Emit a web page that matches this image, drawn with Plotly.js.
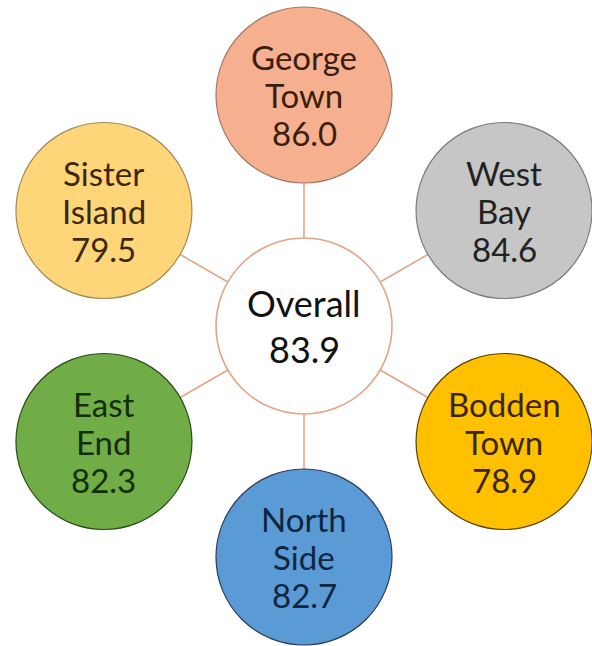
<!DOCTYPE html>
<html>
<head>
<meta charset="utf-8">
<script src="https://cdn.plot.ly/plotly-3.0.1.min.js"></script>
<style>html,body{margin:0;padding:0;background:#fff;}#chart{width:592px;height:646px;}</style>
</head>
<body>
<div id="chart"></div>
<script>
// Data
const centerName = ["Overall"];
const centerValue = [83.9];
const names = [["George", "Town"], ["West", "Bay"], ["Bodden", "Town"], ["North", "Side"], ["East", "End"], ["Sister", "Island"]];
const values = [86.0, 84.6, 78.9, 82.7, 82.3, 79.5];
const fillColors = ["#F6B08F", "#C6C6C6", "#FFC000", "#5B9BD5", "#70AD47", "#FFD57A"];
const textColors = ["#3A1E10", "#222222", "#3A2600", "#0F2540", "#132E08", "#3A2810"];
const borderColors = ["#A07A66", "#7A7A7A", "#5A4200", "#2A3E5A", "#2A4A1A", "#A08A5A"];

// Layout geometry (pixels)
const W = 592, H = 646;
const cx = 304, cy = 326, R = 231, D = 176;
const angles = [90, 30, -30, -90, -150, 150];
const sx = angles.map(a => cx + R * Math.cos(a * Math.PI / 180));
const sy = angles.map(a => cy - R * Math.sin(a * Math.PI / 180));

const traces = [];
// connectors
for (let i = 0; i < names.length; i++) {
  traces.push({
    type: "scatter", mode: "lines", x: [cx, sx[i]], y: [cy, sy[i]],
    line: {color: "#E2A687", width: 1.6}, hoverinfo: "skip", showlegend: false
  });
}
// satellite circles
traces.push({
  type: "scatter", mode: "markers", x: sx, y: sy,
  marker: {size: D, color: fillColors, line: {color: borderColors, width: 1.2}, opacity: 1},
  hoverinfo: "skip", showlegend: false
});
// center circle
traces.push({
  type: "scatter", mode: "markers", x: [cx], y: [cy],
  marker: {size: D, color: "#FFFFFF", line: {color: "#E2A687", width: 1.6}},
  hoverinfo: "skip", showlegend: false
});

const annotations = [];
const lineGap = 38;
for (let i = 0; i < names.length; i++) {
  const lines = names[i].concat([values[i].toFixed(1)]);
  lines.forEach((t, j) => {
    annotations.push({
      x: sx[i], y: sy[i], xref: "x", yref: "y", text: t, showarrow: false,
      xanchor: "center", yanchor: "middle", yshift: -(j - (lines.length - 1) / 2) * lineGap,
      font: {family: "Lato, 'Open Sans', sans-serif", size: 33, color: textColors[i]}
    });
  });
}
const cLines = [centerName[0], centerValue[0].toFixed(1)];
cLines.forEach((t, j) => {
  annotations.push({
    x: cx, y: cy, xref: "x", yref: "y", text: t, showarrow: false,
    xanchor: "center", yanchor: "middle", yshift: -(j - 0.5) * 46,
    font: {family: "Lato, 'Open Sans', sans-serif", size: 36, color: "#111111"}
  });
});

const layout = {
  width: W, height: H,
  margin: {l: 0, r: 0, t: 0, b: 0},
  paper_bgcolor: "#FFFFFF", plot_bgcolor: "#FFFFFF",
  xaxis: {range: [0, W], visible: false, fixedrange: true},
  yaxis: {range: [H, 0], visible: false, fixedrange: true},
  annotations: annotations,
  showlegend: false
};
Plotly.newPlot("chart", traces, layout, {staticPlot: true, displayModeBar: false});
</script>
</body>
</html>
